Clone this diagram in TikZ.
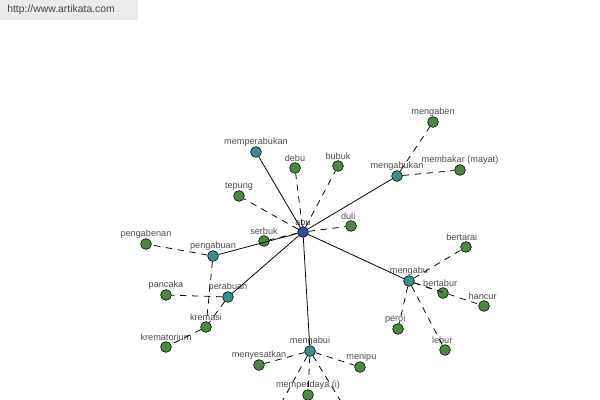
\documentclass[tikz,border=0pt]{standalone}
\usepackage{fontspec}
\setmainfont{Liberation Sans}
\usepackage{xcolor}
\usepackage{tikz}
\usetikzlibrary{positioning}

\definecolor{wordgreen}{HTML}{4A8A3E}
\definecolor{wordteal}{HTML}{3A8E8E}
\definecolor{rootblue}{HTML}{3C4A9C}
\definecolor{labelgray}{HTML}{4D4D4D}
\definecolor{bannergray}{HTML}{EBEBEB}
\definecolor{bannertext}{HTML}{3F4A33}

\begin{document}
\begin{tikzpicture}[
      x=0.025cm, y=-0.025cm,
      word/.style={circle, draw=black, line width=0.4pt, fill=wordgreen, minimum size=0.27cm, inner sep=0pt},
      derived/.style={word, fill=wordteal},
      root/.style={word, fill=rootblue},
      lbl/.style={inner sep=0.5pt, text=labelgray, font=\fontsize{6.5}{7}\selectfont},
      syn/.style={dash pattern=on 4.5pt off 4pt, line width=0.55pt},
      rel/.style={line width=0.55pt}
    ]
      \useasboundingbox (0,0) rectangle (600,400);
      \fill[bannergray] (0,0) rectangle (138,20);
      \node[anchor=west, inner sep=0pt, text=bannertext, font=\fontsize{7.4}{8}\selectfont] (site) at (7,10) {http://www.artikata.com};

      % words
      \node[root] (abu) at (303,232) {};
      \node[derived] (memperabukan) at (256,152) {};
      \node[word] (debu) at (295,168) {};
      \node[word] (bubuk) at (338,166) {};
      \node[derived] (mengabukan) at (397,176) {};
      \node[word] (mengaben) at (433,122) {};
      \node[word] (membakar) at (460,170) {};
      \node[word] (tepung) at (239,196) {};
      \node[word] (duli) at (351,226) {};
      \node[word] (serbuk) at (264,241) {};
      \node[word] (pengabenan) at (146,244) {};
      \node[derived] (pengabuan) at (213,256) {};
      \node[word] (pancaka) at (166,295) {};
      \node[derived] (perabuan) at (228,297) {};
      \node[word] (kremasi) at (206,327) {};
      \node[word] (krematorium) at (166,347) {};
      \node[derived] (mengabui) at (310,351) {};
      \node[word] (menyesatkan) at (259,365) {};
      \node[word] (menipu) at (360,367) {};
      \node[word] (memperdaya) at (308,395) {};
      \node[derived] (mengabu) at (409,281) {};
      \node[word] (bertarai) at (466,247) {};
      \node[word] (bertabur) at (443,293) {};
      \node[word] (hancur) at (484,306) {};
      \node[word] (peroi) at (398,329) {};
      \node[word] (lebur) at (445,350) {};
      \coordinate (offleft) at (283,400);
      \coordinate (offright) at (340,400);

      % labels
      \node[lbl, above=-0.5pt of abu] (abu-lbl) {abu};
      \node[lbl, above=-0.5pt of memperabukan] (memperabukan-lbl) {memperabukan};
      \node[lbl, above=-0.5pt of debu] (debu-lbl) {debu};
      \node[lbl, above=-0.5pt of bubuk] (bubuk-lbl) {bubuk};
      \node[lbl, above=-0.5pt of mengabukan] (mengabukan-lbl) {mengabukan};
      \node[lbl, above=-0.5pt of mengaben] (mengaben-lbl) {mengaben};
      \node[lbl, above=-0.5pt of membakar] (membakar-lbl) {membakar (mayat)};
      \node[lbl, above=-0.5pt of tepung] (tepung-lbl) {tepung};
      \node[lbl, above=-0.5pt of duli, xshift=-2pt] (duli-lbl) {duli};
      \node[lbl, above=-0.5pt of serbuk] (serbuk-lbl) {serbuk};
      \node[lbl, above=-0.5pt of pengabenan] (pengabenan-lbl) {pengabenan};
      \node[lbl, above=-0.5pt of pengabuan] (pengabuan-lbl) {pengabuan};
      \node[lbl, above=-0.5pt of pancaka] (pancaka-lbl) {pancaka};
      \node[lbl, above=-0.5pt of perabuan] (perabuan-lbl) {perabuan};
      \node[lbl, above=-0.5pt of kremasi] (kremasi-lbl) {kremasi};
      \node[lbl, above=-0.5pt of krematorium] (krematorium-lbl) {krematorium};
      \node[lbl, above=-0.5pt of mengabui] (mengabui-lbl) {mengabui};
      \node[lbl, above=-0.5pt of menyesatkan] (menyesatkan-lbl) {menyesatkan};
      \node[lbl, above=-0.5pt of menipu, xshift=1pt] (menipu-lbl) {menipu};
      \node[lbl, above=-0.5pt of memperdaya] (memperdaya-lbl) {memperdaya (i)};
      \node[lbl, above=-0.5pt of mengabu] (mengabu-lbl) {mengabu};
      \node[lbl, above=-0.5pt of bertarai, xshift=-3pt] (bertarai-lbl) {bertarai};
      \node[lbl, above=-0.5pt of bertabur, xshift=-2pt] (bertabur-lbl) {bertabur};
      \node[lbl, above=-0.5pt of hancur, xshift=-1pt] (hancur-lbl) {hancur};
      \node[lbl, above=-0.5pt of peroi, xshift=-2pt] (peroi-lbl) {peroi};
      \node[lbl, above=-0.5pt of lebur, xshift=-2pt] (lebur-lbl) {lebur};

      % derived words
      \draw[rel] (abu) -- (memperabukan);
      \draw[rel] (abu) -- (mengabukan);
      \draw[rel] (abu) -- (pengabuan);
      \draw[rel] (abu) -- (perabuan);
      \draw[rel] (abu) -- (mengabui);
      \draw[rel] (abu) -- (mengabu);

      % related words
      \draw[syn] (abu) -- (debu);
      \draw[syn] (abu) -- (bubuk);
      \draw[syn] (abu) -- (tepung);
      \draw[syn] (abu) -- (duli);
      \draw[syn] (abu) -- (serbuk);
      \draw[syn] (mengabukan) -- (mengaben);
      \draw[syn] (mengabukan) -- (membakar);
      \draw[syn] (pengabuan) -- (pengabenan);
      \draw[syn] (pengabuan) -- (kremasi);
      \draw[syn] (perabuan) -- (pancaka);
      \draw[syn] (perabuan) -- (kremasi);
      \draw[syn] (kremasi) -- (krematorium);
      \draw[syn] (mengabui) -- (menyesatkan);
      \draw[syn] (mengabui) -- (menipu);
      \draw[syn] (mengabui) -- (memperdaya);
      \draw[syn] (mengabui) -- (offleft);
      \draw[syn] (mengabui) -- (offright);
      \draw[syn] (mengabu) -- (bertarai);
      \draw[syn] (mengabu) -- (bertabur);
      \draw[syn] (mengabu) -- (hancur);
      \draw[syn] (mengabu) -- (peroi);
      \draw[syn] (mengabu) -- (lebur);
    \end{tikzpicture}
\end{document}
